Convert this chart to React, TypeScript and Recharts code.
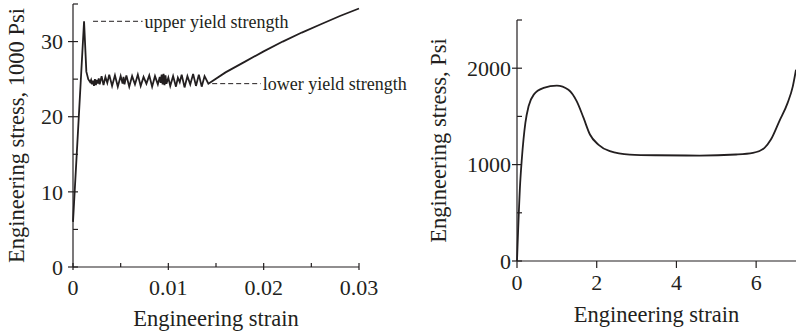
import { LineChart, Line, XAxis, YAxis, ReferenceLine, Label } from 'recharts';

const INK = '#231f20';
const FONT = '"Liberation Serif", "Times New Roman", serif';

// Left panel: mild steel with yield point
const steelStrain = [
  0, 0.00116, 0.0014, 0.0016, 0.0018, 0.0019, 0.002, 0.0021, 0.0022, 0.0023, 0.0024, 0.0025,
  0.0026, 0.0027, 0.0028, 0.003, 0.0032, 0.0034, 0.0036, 0.0038, 0.0041, 0.0044, 0.0047, 0.005,
  0.0052, 0.0053, 0.0054, 0.0056, 0.0059, 0.0062, 0.0065, 0.0068, 0.0071, 0.0074, 0.0077, 0.008,
  0.0083, 0.0086, 0.0089, 0.0091, 0.0092, 0.0093, 0.0094, 0.0095, 0.0096, 0.0097, 0.0098, 0.01,
  0.0102, 0.0105, 0.0108, 0.011, 0.0112, 0.0114, 0.0117, 0.012, 0.0123, 0.0126, 0.0129, 0.0132,
  0.0135, 0.0138, 0.0142, 0.016, 0.018, 0.02, 0.022, 0.024, 0.026, 0.028, 0.03,
];
const steelStress = [
  6, 32.7, 26, 25.0, 24.6, 24.9, 24.3, 24.8, 24.1, 25.0, 24.2, 24.9,
  24.4, 25.1, 24.3, 25.4, 24.2, 25.3, 24.5, 25.6, 24.1, 25.5, 24.0, 25.4,
  24.4, 25.3, 24.3, 25.5, 24.0, 25.4, 24.3, 25.6, 24.1, 25.3, 24.4, 25.5,
  24.0, 25.4, 24.3, 25.3, 24.5, 25.6, 24.3, 25.7, 24.2, 25.5, 24.4, 25.2,
  24.1, 25.4, 24.0, 25.2, 24.6, 25.6, 23.9, 25.4, 24.3, 25.7, 24.1, 25.6,
  24.0, 25.4, 24.4, 25.9, 27.3, 28.7, 30, 31.2, 32.3, 33.4, 34.4,
];
const steelXTicks = [0, 0.005, 0.01, 0.015, 0.02, 0.025, 0.03];
const steelXLabels = [0, 0.01, 0.02, 0.03];
const steelYTicks = [0, 5, 10, 15, 20, 25, 30, 35];
const steelYLabels = [0, 10, 20, 30];
const upperYield = { from: 0.0021, to: 0.0073, stress: 32.7, text: 'upper yield strength' };
const lowerYield = { from: 0.0146, to: 0.0197, stress: 24.4, text: 'lower yield strength' };

// Right panel: polymer with necking
const polyStrain = [
  0, 0.08, 0.12, 0.21, 0.29, 0.42, 0.67, 1.0, 1.29, 1.5, 1.67, 1.83, 2.04, 2.33, 2.83, 3.5,
  4.58, 5.5, 5.92, 6.21, 6.37, 6.58, 6.79, 6.92, 7.0,
];
const polyStress = [
  0, 811, 1053, 1433, 1605, 1726, 1795, 1820, 1777, 1656, 1484, 1312, 1208, 1139, 1104, 1097,
  1094, 1105, 1122, 1174, 1260, 1449, 1640, 1812, 1984,
];
const polyXTicks = [0, 2, 4, 6];
const polyYTicks = [0, 500, 1000, 1500, 2000, 2500];
const polyYLabels = [0, 1000, 2000];

const steelData = steelStrain.map((s, i) => ({ strain: s, stress: steelStress[i] }));
const polyData = polyStrain.map((s, i) => ({ strain: s, stress: polyStress[i] }));

const textStyle = { fontFamily: FONT, fill: INK };

function makeYTick(labels: number[], gap: number) {
  return (props: any) => {
    const { x, y, payload } = props;
    const major = labels.includes(payload.value);
    return (
      <g>
        <line x1={major ? x - 5 : x} x2={x + 5} y1={y} y2={y} stroke={INK} strokeWidth={1.2} />
        {major && (
          <text x={x - gap} y={y} dy="0.35em" textAnchor="end" fontSize={22} {...textStyle}>
            {payload.value}
          </text>
        )}
      </g>
    );
  };
}

function makeXTick(labels: number[], up: number, down: number, baseline: number) {
  return (props: any) => {
    const { x, y, payload } = props;
    const major = labels.includes(payload.value);
    return (
      <g>
        <line x1={x} x2={x} y1={y - up} y2={major ? y + down : y} stroke={INK} strokeWidth={1.2} />
        {major && (
          <text x={x} y={y + baseline} textAnchor="middle" fontSize={22} {...textStyle}>
            {payload.value}
          </text>
        )}
      </g>
    );
  };
}

function yTitle(text: string, cx: number) {
  return (props: any) => {
    const { x, y, height } = props.viewBox;
    const tx = x + cx;
    const ty = y + height / 2;
    return (
      <text x={tx} y={ty} transform={`rotate(-90 ${tx} ${ty})`} textAnchor="middle" dy="0.35em" fontSize={22.5} {...textStyle}>
        {text}
      </text>
    );
  };
}

function xTitle(text: string, base: number) {
  return (props: any) => {
    const { x, y, width } = props.viewBox;
    return (
      <text x={x + width / 2} y={y + base} textAnchor="middle" fontSize={22.5} {...textStyle}>
        {text}
      </text>
    );
  };
}

export default function App() {
  return (
    <div style={{ position: 'absolute', left: 0, top: 0, width: 796, height: 335, background: '#fff' }}>
      <div style={{ position: 'absolute', left: 0, top: 0 }}>
        <LineChart width={420} height={335} data={steelData} margin={{ top: 4, right: 61, left: 0, bottom: 0 }}>
          <XAxis
            dataKey="strain"
            type="number"
            domain={[0, 0.03]}
            ticks={steelXTicks}
            interval={0}
            height={68}
            tickSize={0}
            tickMargin={0}
            tickLine={false}
            axisLine={{ stroke: INK, strokeWidth: 1.2 }}
            tick={makeXTick(steelXLabels, 4, 3, 28)}
          >
            <Label content={xTitle('Engineering strain', 59)} />
          </XAxis>
          <YAxis
            type="number"
            domain={[0, 35]}
            ticks={steelYTicks}
            interval={0}
            width={73}
            tickSize={0}
            tickMargin={0}
            tickLine={false}
            axisLine={{ stroke: INK, strokeWidth: 1.2 }}
            tick={makeYTick(steelYLabels, 10)}
          >
            <Label content={yTitle('Engineering stress, 1000 Psi', 16)} />
          </YAxis>
          <ReferenceLine
            segment={[{ x: upperYield.from, y: upperYield.stress }, { x: upperYield.to, y: upperYield.stress }]}
            stroke={INK}
            strokeDasharray="5 3"
            label={{ value: upperYield.text, position: 'right', offset: 2, fontSize: 18, ...textStyle }}
          />
          <ReferenceLine
            segment={[{ x: lowerYield.from, y: lowerYield.stress }, { x: lowerYield.to, y: lowerYield.stress }]}
            stroke={INK}
            strokeDasharray="5 3"
            label={{ value: lowerYield.text, position: 'right', offset: 2, fontSize: 18, ...textStyle }}
          />
          <Line dataKey="stress" type="linear" stroke={INK} strokeWidth={1.8} dot={false} isAnimationActive={false} />
        </LineChart>
      </div>
      <div style={{ position: 'absolute', left: 420, top: 0 }}>
        <LineChart width={376} height={335} data={polyData} margin={{ top: 20, right: 0, left: 0, bottom: 0 }}>
          <XAxis
            dataKey="strain"
            type="number"
            domain={[0, 7]}
            ticks={polyXTicks}
            interval={0}
            height={74}
            tickSize={0}
            tickMargin={0}
            tickLine={false}
            axisLine={{ stroke: INK, strokeWidth: 1.2 }}
            tick={makeXTick(polyXTicks, 0, 7, 29)}
          >
            <Label content={xTitle('Engineering strain', 61)} />
          </XAxis>
          <YAxis
            type="number"
            domain={[0, 2500]}
            ticks={polyYTicks}
            interval={0}
            width={97}
            tickSize={0}
            tickMargin={0}
            tickLine={false}
            axisLine={{ stroke: INK, strokeWidth: 1.2 }}
            tick={makeYTick(polyYLabels, 6)}
          >
            <Label content={yTitle('Engineering stress, Psi', 18)} />
          </YAxis>
          <Line dataKey="stress" type="monotone" stroke={INK} strokeWidth={1.8} dot={false} isAnimationActive={false} />
        </LineChart>
      </div>
    </div>
  );
}
